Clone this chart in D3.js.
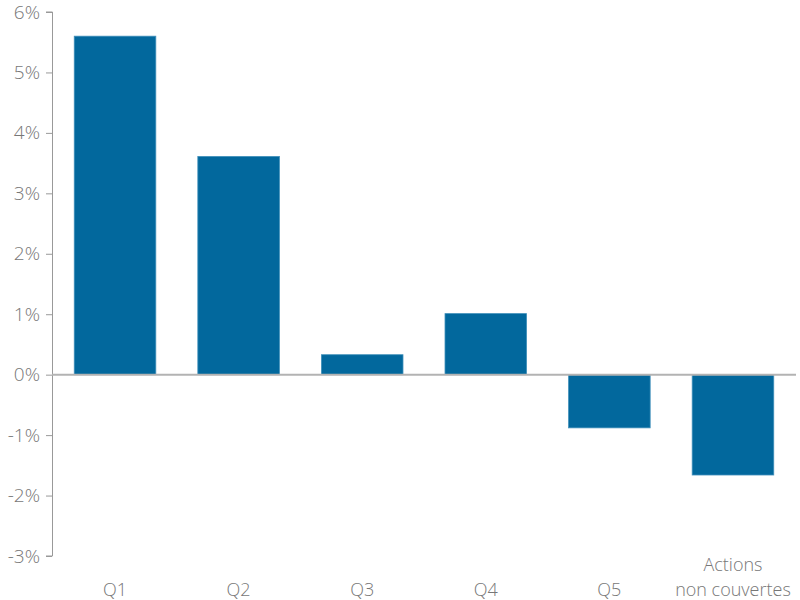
<!DOCTYPE html>
<html><head><meta charset="utf-8">
<script src="https://cdn.jsdelivr.net/npm/d3@7"></script>
<style>body{margin:0;background:#fff}svg{display:block}</style>
</head><body>
<svg id="c" width="800" height="600"></svg>
<script>
const categories = ["Q1","Q2","Q3","Q4","Q5","Actions\nnon couvertes"];
const values = [5.6, 3.61, 0.33, 1.01, -0.88, -1.66];
const yTicks = [-3,-2,-1,0,1,2,3,4,5,6];

const svg = d3.select("#c");
const m = {left:52, right:796, top:12, bottom:556};
const x = d3.scaleBand().domain(categories).range([m.left, m.right]).paddingInner(0.34).paddingOuter(0.18);
const y = d3.scaleLinear().domain([-3,6]).range([m.bottom, m.top]);
const font = "'Open Sans', sans-serif";

const yAxis = svg.append("g").attr("transform",`translate(${m.left},0)`)
  .call(d3.axisLeft(y).tickValues(yTicks).tickFormat(d=>d+"%").tickSize(6).tickPadding(6));
yAxis.select(".domain").attr("stroke","#999").attr("d",`M-6,${y(6)}H0.5V${y(-3)}H-6`);
yAxis.selectAll(".tick line").attr("stroke","#999");
yAxis.selectAll(".tick text").attr("fill","#777").style("font-family",font).style("font-weight",300).style("font-size","19px");

svg.append("g").selectAll("rect").data(values).join("rect")
  .attr("x",(d,i)=>x(categories[i]))
  .attr("width",x.bandwidth())
  .attr("y",d=>y(Math.max(0,d)))
  .attr("height",d=>Math.abs(y(d)-y(0)))
  .attr("fill","#02689d").attr("stroke","#3f8fba").attr("stroke-width",0.8);

svg.append("line").attr("x1",m.left).attr("x2",m.right).attr("y1",y(0)).attr("y2",y(0))
  .attr("stroke","#b3b3b3").attr("stroke-width",2);

const lab = svg.append("g").selectAll("text").data(categories).join("text")
  .attr("text-anchor","middle").attr("fill","#777")
  .style("font-family",font).style("font-weight",300).style("font-size","18px");
lab.each(function(d){
  const lines = d.split("\n");
  const t = d3.select(this);
  const cx = x(d)+x.bandwidth()/2;
  lines.forEach((l,i)=>{
    t.append("tspan").attr("x",cx).attr("y",596-(lines.length-1-i)*25).text(l);
  });
});
</script>
</body></html>
